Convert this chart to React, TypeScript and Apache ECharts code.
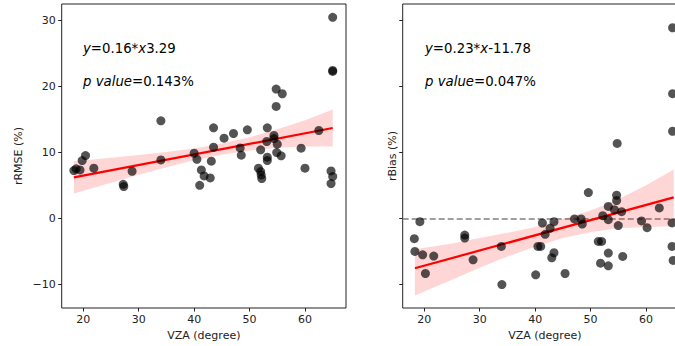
import React, { useEffect, useRef } from "react";
import * as echarts from "echarts";

// ---- Data ----
const leftX = [18.3, 19.4, 18.7, 19.8, 20.4, 21.9, 27.2, 27.3, 28.8, 34.0, 34.0, 40.0, 40.5, 41.3, 41.0, 41.8, 42.9, 43.1, 43.5, 43.5, 45.4, 47.1, 48.3, 48.5, 49.6, 51.6, 52.0, 52.1, 52.2, 52.0, 53.2, 53.1, 53.2, 53.2, 54.4, 54.4, 54.8, 54.8, 55.9, 54.9, 55.0, 55.7, 59.3, 60.0, 62.5, 65.0, 65.0, 65.0, 64.7, 65.0, 64.7];
const leftY = [7.24, 7.34, 7.5, 8.76, 9.52, 7.6, 5.16, 4.81, 7.14, 14.78, 8.86, 9.87, 8.96, 7.34, 5.01, 6.43, 6.13, 8.66, 10.78, 13.72, 12.15, 12.86, 10.68, 9.57, 13.42, 7.6, 7.09, 6.58, 6.03, 10.38, 13.72, 11.65, 9.27, 8.76, 12.56, 12.1, 19.6, 16.96, 18.89, 9.97, 11.24, 9.47, 10.63, 7.6, 13.32, 30.48, 22.43, 22.28, 7.19, 6.33, 5.27];

const rightX = [18.2, 18.3, 19.2, 19.7, 20.2, 21.7, 27.3, 27.3, 28.8, 34.0, 33.9, 40.1, 40.5, 41.0, 41.3, 41.8, 42.7, 43.0, 43.4, 43.4, 45.4, 47.1, 48.3, 48.5, 49.6, 51.4, 52.0, 51.8, 52.2, 53.2, 53.2, 53.2, 53.2, 54.3, 54.7, 54.7, 54.8, 55.0, 55.6, 55.8, 59.2, 60.2, 62.4, 64.8, 64.8, 64.8, 64.7, 64.7, 64.9];
const rightY = [-3.09, -5.02, -0.51, -5.53, -8.37, -5.73, -2.54, -2.99, -6.29, -10.04, -4.26, -8.57, -4.26, -4.26, -0.71, -2.43, -1.52, -5.98, -5.22, -0.51, -8.37, -0.1, -0.1, -0.86, 3.9, -3.5, -3.5, -6.8, 0.4, 1.8, -5.27, -0.2, -7.2, 1.3, 3.5, 2.7, 11.36, -1.1, 1.0, -5.78, -0.4, -1.42, 1.57, 28.9, 18.9, 13.2, -0.7, -4.26, -6.39];

// regression lines (end points)
const fitX = [18.3, 65.0];
const leftFitY = [6.22, 13.69];
const rightFitY = [-7.57, 3.17];

// confidence bands
const bandX = [18.3, 25, 30, 35, 40, 45, 50, 55, 60, 65];
const leftUpper = [8.67, 9.19, 9.59, 10.04, 10.59, 11.34, 12.29, 13.49, 14.89, 16.49];
const leftLower = [3.77, 5.39, 6.59, 7.74, 8.79, 9.64, 10.29, 10.69, 10.89, 10.89];
const rightUpper = [-4.7, -3.8, -3.0, -2.2, -1.3, -0.1, 1.2, 2.9, 5.0, 7.4];
const rightLower = [-11.7, -9.3, -7.5, -5.8, -4.3, -3.0, -2.1, -1.5, -1.3, -1.2];

const xTicks = [20, 30, 40, 50, 60];
const yTicks = [-10, 0, 10, 20, 30];

const FONT = "DejaVu Sans";
const TXT = "#222";

function band(idx: number, upper: number[], lower: number[]) {
  return {
    type: "custom",
    xAxisIndex: idx,
    yAxisIndex: idx,
    silent: true,
    z: 1,
    data: [[40, 0]],
    renderItem: (_params: any, api: any) => {
      const top = bandX.map((x, i) => api.coord([x, upper[i]]));
      const bot = bandX.map((x, i) => api.coord([x, lower[i]])).reverse();
      return {
        type: "polygon",
        shape: { points: top.concat(bot) },
        style: { fill: "rgba(255,0,0,0.16)" },
      };
    },
  };
}

function fitLine(idx: number, ys: number[]) {
  return {
    type: "line",
    xAxisIndex: idx,
    yAxisIndex: idx,
    symbol: "none",
    silent: true,
    z: 2,
    lineStyle: { color: "#ff0000", width: 2.2 },
    data: fitX.map((x, i) => [x, ys[i]]),
  };
}

function scatter(idx: number, xs: number[], ys: number[]) {
  return {
    type: "scatter",
    xAxisIndex: idx,
    yAxisIndex: idx,
    symbolSize: 9,
    z: 3,
    itemStyle: { color: "rgba(0,0,0,0.84)" },
    data: xs.map((x, i) => [x, ys[i]]),
  };
}

function xAxis(idx: number) {
  return {
    type: "value",
    gridIndex: idx,
    min: 16.1,
    max: 67.4,
    name: "VZA (degree)",
    nameLocation: "middle",
    nameGap: 22,
    nameTextStyle: { fontFamily: FONT, fontSize: 11, color: TXT },
    splitLine: { show: false },
    axisLine: { show: false, onZero: false },
    axisTick: { show: true, length: 3.5, customValues: xTicks, lineStyle: { color: TXT } },
    axisLabel: { customValues: xTicks, fontFamily: FONT, fontSize: 11, color: TXT, margin: 6 },
  };
}

function yAxis(idx: number, name: string, showLabels: boolean, gap: number) {
  return {
    type: "value",
    gridIndex: idx,
    min: -13.6,
    max: 32.5,
    name,
    nameLocation: "middle",
    nameGap: gap,
    nameTextStyle: { fontFamily: FONT, fontSize: 11, color: TXT },
    splitLine: { show: false },
    axisLine: { show: false, onZero: false },
    axisTick: { show: true, length: 3.5, customValues: yTicks, lineStyle: { color: TXT } },
    axisLabel: {
      show: showLabels,
      customValues: yTicks,
      fontFamily: FONT,
      fontSize: 11,
      color: TXT,
      margin: 6,
      formatter: (v: number) => String(v).replace("-", "\u2212"),
    },
  };
}

function eqText(x: number, y: number, text: string) {
  return {
    type: "text",
    left: x,
    top: y,
    style: {
      text,
      fontFamily: FONT,
      fontSize: 13.3,
      fill: "#000",
      rich: {
        i: { fontStyle: "italic", fontFamily: FONT, fontSize: 13.3, fill: "#000" },
      },
    },
  };
}

export default function App() {
  const ref = useRef<HTMLDivElement>(null);
  useEffect(() => {
    document.body.style.margin = "0";
    if (!ref.current) return;
    const chart = echarts.init(ref.current, undefined, { renderer: "svg" });
    chart.setOption({
      animation: false,
      backgroundColor: "#fff",
      grid: [
        { left: 61.7, top: 4, width: 284.3, height: 304, show: true, borderColor: "#222", borderWidth: 1, backgroundColor: "transparent", outerBoundsMode: "none", containLabel: false },
        { left: 402.7, top: 4, width: 284.3, height: 304, show: true, borderColor: "#222", borderWidth: 1, backgroundColor: "transparent", outerBoundsMode: "none", containLabel: false },
      ],
      xAxis: [xAxis(0), xAxis(1)],
      yAxis: [yAxis(0, "rRMSE (%)", true, 38), yAxis(1, "rBias (%)", false, 5)],
      series: [
        band(0, leftUpper, leftLower),
        fitLine(0, leftFitY),
        scatter(0, leftX, leftY),
        band(1, rightUpper, rightLower),
        {
          ...fitLine(1, rightFitY),
          markLine: {
            silent: true,
            symbol: "none",
            label: { show: false },
            lineStyle: { color: "#808080", type: [6, 3], width: 1.5 },
            data: [{ yAxis: 0 }],
            z: 1,
          },
        },
        scatter(1, rightX, rightY),
      ],
      graphic: [
        eqText(83, 42, "{i|y}=0.16*{i|x}3.29"),
        eqText(83, 75, "{i|p value}=0.143%"),
        eqText(425, 42, "{i|y}=0.23*{i|x}-11.78"),
        eqText(425, 75, "{i|p value}=0.047%"),
      ],
    });
    return () => chart.dispose();
  }, []);
  return <div ref={ref} style={{ width: 675, height: 346, position: "absolute", left: 0, top: 0 }} />;
}
